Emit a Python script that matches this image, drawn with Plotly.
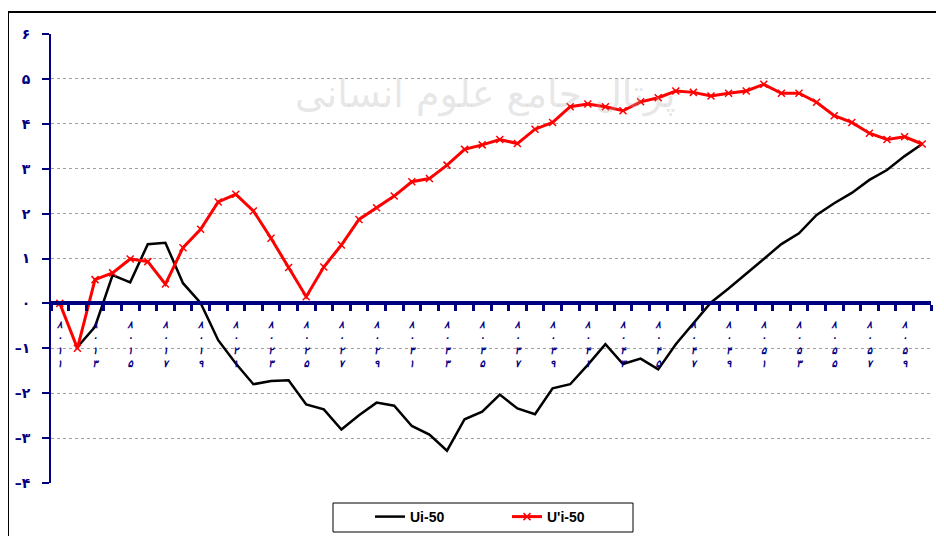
import plotly.graph_objects as go

# ---- data ----
codes = [str(n) for n in range(11, 61)]  # category codes 8011..8060
fa = str.maketrans("0123456789", "۰۱۲۳۴۵۶۷۸۹")
categories = ["80" + c for c in codes]

ui_50 = [None, -0.97, -0.52, 0.63, 0.47, 1.32, 1.35, 0.45, 0.01, -0.82,
         -1.34, -1.80, -1.73, -1.71, -2.25, -2.36, -2.81, -2.49, -2.21, -2.28,
         -2.73, -2.92, -3.28, -2.58, -2.41, -2.03, -2.34, -2.47, -1.89, -1.80,
         -1.37, -0.91, -1.35, -1.23, -1.47, -0.91, -0.45, 0.02, 0.33, 0.67,
         0.99, 1.32, 1.56, 1.97, 2.23, 2.46, 2.75, 2.97, 3.28, 3.55]

upi_50 = [0.0, -1.0, 0.53, 0.68, 0.99, 0.93, 0.43, 1.24, 1.65, 2.26,
          2.43, 2.06, 1.45, 0.80, 0.15, 0.81, 1.30, 1.87, 2.13, 2.39,
          2.71, 2.78, 3.08, 3.43, 3.53, 3.65, 3.56, 3.88, 4.03, 4.38,
          4.44, 4.38, 4.29, 4.49, 4.58, 4.73, 4.70, 4.62, 4.68, 4.73,
          4.88, 4.68, 4.68, 4.48, 4.18, 4.03, 3.79, 3.65, 3.71, 3.55]

y_ticks = [-4, -3, -2, -1, 0, 1, 2, 3, 4, 5, 6]
y_ticktext = [("–" if v < 0 else "") + str(abs(v)).translate(fa) for v in y_ticks]

series_names = ["Ui-50", "U'i-50"]

# ---- figure ----
NAVY = "#000080"
OFF = 8  # page body margin
# plot area in screen pixels
SL, SR, ST, SB = 51, 931, 34, 483
L, R, T, B = SL - OFF, SR - OFF, ST - OFF, SB - OFF
W, H = R - L, B - T
FW, FH = 944, 536


def px_x(p):  # screen px -> paper
    return (p - OFF - L) / W


def px_y(p):
    return (B - (p - OFF)) / H


xs = list(range(len(categories)))
label_idx = xs[::2]
label_text = ["<i>" + "<br>".join(list(categories[i].translate(fa))) + "</i>" for i in label_idx]

fig = go.Figure()
fig.add_trace(go.Scatter(x=xs, y=ui_50, name=series_names[0], mode="lines",
                         line=dict(color="black", width=2.5)))
fig.add_trace(go.Scatter(x=xs, y=upi_50, name=series_names[1], mode="lines+markers",
                         line=dict(color="#ff0000", width=3),
                         marker=dict(symbol="x-thin", size=7,
                                     line=dict(width=1.5, color="#ff0000"))))

fig.update_layout(
    width=FW, height=FH,
    margin=dict(l=L, r=FW - R, t=T, b=FH - B, autoexpand=False),
    paper_bgcolor="white", plot_bgcolor="white",
    font=dict(family="DejaVu Sans", color=NAVY),
    showlegend=True,
    legend=dict(orientation="h", x=px_x(370), xanchor="left",
                y=px_y(517), yanchor="middle",
                bgcolor="rgba(0,0,0,0)", borderwidth=0,
                font=dict(family="Liberation Sans, Arial", size=14, color="black", weight="bold"),
                entrywidth=92, itemwidth=30),
    xaxis=dict(
        range=[-0.5, len(categories) - 0.5],
        anchor="free", position=0.4, automargin=False,
        showline=True, linecolor=NAVY, linewidth=4,
        showgrid=False, zeroline=False,
        tickmode="array", tickvals=label_idx, ticktext=label_text,
        ticks="", ticklabelstandoff=11,
        tickfont=dict(family="DejaVu Sans", size=10, color=NAVY, weight="bold"),
        minor=dict(tickmode="linear", tick0=-0.5, dtick=1, ticks="outside",
                   ticklen=6, tickwidth=3, tickcolor=NAVY, showgrid=False),
    ),
    yaxis=dict(
        range=[-4, 6], tickmode="array", tickvals=y_ticks, ticktext=y_ticktext,
        automargin=False,
        showline=True, linecolor=NAVY, linewidth=2,
        ticks="outside", ticklen=7, tickwidth=2, tickcolor=NAVY,
        ticklabelstandoff=9,
        tickfont=dict(family="DejaVu Sans", size=14, color=NAVY, weight="bold"),
        showgrid=True, gridcolor="#a0a0a0", gridwidth=1, griddash="dot",
        zeroline=False,
    ),
)

# outer frame
fig.add_shape(type="rect", xref="paper", yref="paper",
              x0=px_x(8), x1=px_x(970), y0=px_y(570), y1=px_y(12),
              line=dict(color="black", width=2), fillcolor="rgba(0,0,0,0)", layer="below")
# legend box
fig.add_shape(type="rect", xref="paper", yref="paper",
              x0=px_x(333), x1=px_x(633), y0=px_y(532), y1=px_y(503),
              line=dict(color="black", width=1), fillcolor="white", layer="below")

# faint watermark
fig.add_annotation(text="پرتال جامع علوم انسانی", xref="paper", yref="paper",
                   x=px_x(485), y=px_y(70), showarrow=False,
                   font=dict(family="DejaVu Sans", size=38, color="rgba(170,170,170,0.3)"))

fig.write_html("out.html")
